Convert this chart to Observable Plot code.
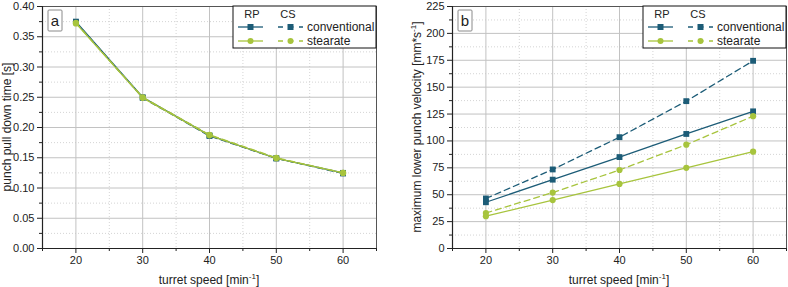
<!DOCTYPE html>
<html>
<head>
<meta charset="utf-8">
<script src="https://cdn.jsdelivr.net/npm/d3@7"></script>
<script src="https://cdn.jsdelivr.net/npm/@observablehq/plot@0.6"></script>
<style>
  body { margin: 0; background: #fff; }
  #wrap { display: flex; width: 788px; height: 287px; }
  #wrap svg { font-family: "Liberation Sans", Arial, sans-serif; background: #fff; }
</style>
</head>
<body>
<div id="wrap"></div>
<script>
// Turret speeds [min^-1]
const speeds = [20, 30, 40, 50, 60];

// (a) punch pull down time [s]
const pullRPConventional = [0.375, 0.250, 0.187, 0.149, 0.125];
const pullCSConventional = [0.374, 0.249, 0.186, 0.149, 0.124];
const pullRPStearate     = [0.372, 0.249, 0.187, 0.149, 0.125];
const pullCSStearate     = [0.373, 0.250, 0.188, 0.150, 0.125];

// (b) maximum lower punch velocity [mm*s^-1]
const velRPConventional = [43, 64, 85, 106.5, 127.5];
const velCSConventional = [46.5, 73.5, 103.5, 137, 174.5];
const velRPStearate     = [30, 45, 60, 75, 90];
const velCSStearate     = [33, 52, 73, 96.5, 123];

// Axis ticks
const xMajor = [20, 30, 40, 50, 60];
const xMinor = [15, 25, 35, 45, 55, 65];
const yMajorA = [0, 0.05, 0.10, 0.15, 0.20, 0.25, 0.30, 0.35, 0.40];
const yMinorA = [0.025, 0.075, 0.125, 0.175, 0.225, 0.275, 0.325, 0.375];
const yMajorB = [0, 25, 50, 75, 100, 125, 150, 175, 200, 225];
const yMinorB = [12.5, 37.5, 62.5, 87.5, 112.5, 137.5, 162.5, 187.5, 212.5];

const lubricants = ["conventional", "stearate"];
const methods = ["RP", "CS"];
const colors = {conventional: "#1c5c77", stearate: "#a7c43d"};

function rows(seriesList) {
  const out = [];
  for (const [method, lubricant, values] of seriesList) {
    values.forEach((v, i) => out.push({speed: speeds[i], value: v, method, lubricant}));
  }
  return out;
}

const dataA = rows([
  ["RP", "conventional", pullRPConventional],
  ["CS", "conventional", pullCSConventional],
  ["RP", "stearate", pullRPStearate],
  ["CS", "stearate", pullCSStearate]
]);
const dataB = rows([
  ["RP", "conventional", velRPConventional],
  ["CS", "conventional", velCSConventional],
  ["RP", "stearate", velRPStearate],
  ["CS", "stearate", velCSStearate]
]);

function panel({data, yMajor, yMinor, yFormat, marginLeft, marginRight}) {
  const xDomain = [d3.min(xMinor), d3.max(xMinor)];
  const yDomain = [d3.min(yMajor), d3.max(yMajor)];
  const seriesMarks = [];
  for (const lub of lubricants) {
    for (const m of methods) {
      const d = data.filter(r => r.lubricant === lub && r.method === m);
      seriesMarks.push(Plot.line(d, {
        x: "speed", y: "value", stroke: colors[lub], strokeWidth: 1.3,
        strokeDasharray: m === "CS" ? "6,4" : null
      }));
      seriesMarks.push(Plot.dot(d, {
        x: "speed", y: "value", fill: colors[lub], stroke: "none",
        symbol: lub === "conventional" ? "square" : "circle",
        r: lub === "conventional" ? 3.3 : 3.1
      }));
    }
  }
  return Plot.plot({
    width: 394,
    height: 287,
    marginLeft, marginRight,
    marginTop: 6,
    marginBottom: 39,
    style: {fontFamily: "Liberation Sans, Arial, sans-serif", fontSize: "11px", color: "#222"},
    x: {domain: xDomain},
    y: {domain: yDomain},
    marks: [
      Plot.ruleX(xMinor, {stroke: "#d4d4d4", strokeDasharray: "1,2"}),
      Plot.ruleY(yMinor, {stroke: "#d4d4d4", strokeDasharray: "1,2"}),
      Plot.ruleX(xMajor, {stroke: "#c2c2c2"}),
      Plot.ruleY(yMajor, {stroke: "#c2c2c2"}),
      Plot.frame({stroke: "#555"}),
      Plot.ruleX([xDomain[0]], {stroke: "#222", strokeWidth: 1.2}),
      Plot.ruleY([yDomain[0]], {stroke: "#222", strokeWidth: 1.2}),
      Plot.axisX({ticks: xMajor, tickSize: 5, tickPadding: 3, label: null, stroke: "#222", fontSize: 11}),
      Plot.axisX({ticks: xMinor, tickSize: 3, text: null, label: null, stroke: "#222"}),
      Plot.axisY({ticks: yMajor, tickSize: 5, tickPadding: 3, label: null, tickFormat: yFormat, stroke: "#222", fontSize: 11}),
      Plot.axisY({ticks: yMinor, tickSize: 3, text: null, label: null, stroke: "#222"}),
      ...seriesMarks
    ]
  });
}

function superLabel(sel, parts) {
  // parts: [text, superscript, text]
  sel.append("tspan").text(parts[0]);
  if (parts[1]) {
    sel.append("tspan").attr("font-size", 8).attr("dy", -5).text(parts[1]);
    sel.append("tspan").attr("dy", 5).text(parts[2]);
  }
}

function label(parent, x, y, txt, size, anchor) {
  return parent.append("text").attr("x", x).attr("y", y)
    .attr("text-anchor", anchor).attr("font-size", size)
    .attr("fill", "#222").attr("stroke", "none").text(txt);
}

function decorate(svg, {letter, yParts, yLabelX, marginLeft, plotRight}) {
  const s = d3.select(svg);
  // x axis label
  const xl = s.append("text").attr("x", (marginLeft + plotRight) / 2).attr("y", 284)
    .attr("text-anchor", "middle").attr("font-size", 12).attr("fill", "#222");
  superLabel(xl, ["turret speed [min", "-1", "]"]);
  // y axis label
  const yl = s.append("text").attr("transform", `translate(${yLabelX},127) rotate(-90)`)
    .attr("text-anchor", "middle").attr("font-size", 12).attr("fill", "#222");
  superLabel(yl, yParts);

  // panel letter
  const lx = marginLeft + 6;
  s.append("rect").attr("x", lx).attr("y", 10).attr("width", 14).attr("height", 21).attr("rx", 1)
    .style("fill", "#fff").style("stroke", "#8a8a8a").style("stroke-width", "1px");
  label(s, lx + 7, 26, letter, 15, "middle");

  // legend box
  const L = plotRight - 143, T = 6;
  s.append("rect").attr("x", L).attr("y", T).attr("width", 143).attr("height", 42)
    .style("fill", "#ffffff").style("stroke", "#111").style("stroke-width", "1px");
  label(s, L + 19, T + 12, methods[0], 11, "middle");
  label(s, L + 55, T + 12, methods[1], 11, "middle");
  lubricants.forEach((lub, i) => {
    const y = T + 21 + i * 14;
    const c = colors[lub];
    s.append("line").attr("x1", L + 5).attr("x2", L + 30).attr("y1", y).attr("y2", y)
      .style("stroke", c).style("stroke-width", "1.3px");
    s.append("line").attr("x1", L + 45).attr("x2", L + 70).attr("y1", y).attr("y2", y)
      .style("stroke", c).style("stroke-width", "1.3px").style("stroke-dasharray", "5,5.5");
    for (const cx of [L + 17.5, L + 57.5]) {
      if (lub === "conventional") {
        s.append("rect").attr("x", cx - 3).attr("y", y - 3).attr("width", 6).attr("height", 6)
          .style("fill", c).style("stroke", "none");
      } else {
        s.append("circle").attr("cx", cx).attr("cy", y).attr("r", 3)
          .style("fill", c).style("stroke", "none");
      }
    }
    label(s, L + 74, y + 4, lub, 12, "start");
  });
}

const wrap = document.getElementById("wrap");

const svgA = panel({data: dataA, yMajor: yMajorA, yMinor: yMinorA, yFormat: d3.format(".2f"), marginLeft: 42, marginRight: 18});
decorate(svgA, {letter: "a", yParts: ["punch pull down time [s]", "", ""], yLabelX: 10.5, marginLeft: 42, plotRight: 376});
wrap.appendChild(svgA);

const svgB = panel({data: dataB, yMajor: yMajorB, yMinor: yMinorB, yFormat: d3.format("d"), marginLeft: 58, marginRight: 2});
decorate(svgB, {letter: "b", yParts: ["maximum lower punch velocity [mm*s", "-1", "]"], yLabelX: 27, marginLeft: 58, plotRight: 392});
wrap.appendChild(svgB);
</script>
</body>
</html>
